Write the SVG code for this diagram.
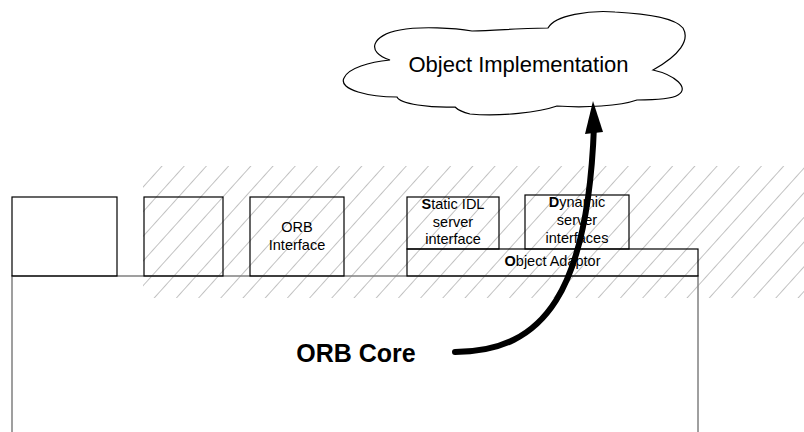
<svg xmlns="http://www.w3.org/2000/svg" width="804" height="432" viewBox="0 0 804 432">
<style>
  .box { fill: none; stroke: #000; stroke-width: 1.2; }
  .core { fill: none; stroke: #808080; stroke-width: 1.5; }
  .lbl { font-family: "Liberation Sans", Arial, sans-serif; font-size: 14.5px; fill: #000; text-anchor: middle; }
  .b { font-weight: bold; }
</style>
<defs>
  <pattern id="hatch" patternUnits="userSpaceOnUse" width="16.5" height="20" patternTransform="rotate(42)">
    <line x1="0" y1="0" x2="0" y2="20" stroke="#666" stroke-width="0.8"/>
  </pattern>
</defs>
<rect width="804" height="432" fill="#fff"/>
<rect id="hatch-area" x="143" y="166" width="661" height="132" fill="url(#hatch)"/>

<g id="orb-core">
  <rect class="core" x="12" y="276" width="686" height="170"/>
  <text x="356" y="362" font-family="Liberation Sans, Arial, sans-serif" font-size="25" font-weight="bold" text-anchor="middle">ORB Core</text>
</g>
<g id="box1"><rect class="box" x="12" y="197" width="105" height="79"/></g>
<g id="box2"><rect class="box" x="144" y="197" width="79" height="79"/></g>
<g id="orb-interface">
  <rect class="box" x="250" y="197" width="94" height="79"/>
  <text class="lbl" x="297" y="232">ORB</text>
  <text class="lbl" x="297" y="250">Interface</text>
</g>
<g id="static-idl">
  <rect class="box" x="407" y="197" width="92" height="52"/>
  <text class="lbl" x="453" y="209"><tspan class="b">S</tspan>tatic IDL</text>
  <text class="lbl" x="453" y="226.5">server</text>
  <text class="lbl" x="453" y="244">interface</text>
</g>
<g id="dynamic">
  <rect class="box" x="525" y="195" width="104" height="54"/>
  <text class="lbl" x="577" y="207"><tspan class="b">D</tspan>ynamic</text>
  <text class="lbl" x="577" y="225">server</text>
  <text class="lbl" x="577" y="242.5">interfaces</text>
</g>
<g id="object-adaptor">
  <rect class="box" x="407" y="249" width="291" height="27"/>
  <text class="lbl" x="552.5" y="266"><tspan class="b">O</tspan>bject Adaptor</text>
</g>
<g id="object-implementation">
  <path fill="#fff" stroke="#000" stroke-width="1.2" d="M390,60 C365,52 372,35 400,30 C420,26 455,28 472,31 C500,30 530,28 548,28 C555,15 590,10 615,12 C650,14 675,18 683,28 C690,40 680,55 653,70 C675,75 690,88 678,95 C670,100 650,100 637,100 C620,106 585,108 557,106 C540,112 500,117 470,114 C462,112 458,110 455,107 C430,108 400,104 397,97 C370,97 338,90 344,78 C348,68 370,62 390,60 Z"/>
  <text x="518.5" y="71.5" font-family="Liberation Sans, Arial, sans-serif" font-size="22" text-anchor="middle">Object Implementation</text>
</g>
<g id="connectors">
  <path d="M455,352 C545,352 588,290 594,126" fill="none" stroke="#000" stroke-width="6" stroke-linecap="round"/>
  <polygon points="593,101 585,134 603,132" fill="#000"/>
</g>
</svg>
